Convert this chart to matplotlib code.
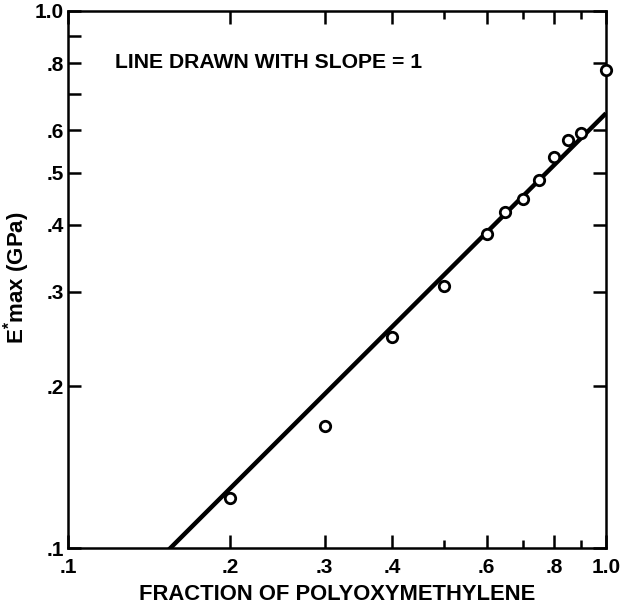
import matplotlib
matplotlib.use("Agg")
import matplotlib.pyplot as plt
import numpy as np
from matplotlib.ticker import FixedLocator, FixedFormatter, NullFormatter

plt.rcParams['font.family'] = ['Liberation Sans', 'DejaVu Sans']
plt.rcParams['font.weight'] = 'bold'
plt.rcParams['mathtext.fontset'] = 'custom'
plt.rcParams['mathtext.rm'] = 'Liberation Sans:bold'
plt.rcParams['mathtext.default'] = 'rm'

# data
fraction_pom = [0.2, 0.3, 0.4, 0.5, 0.6, 0.65, 0.7, 0.75, 0.8, 0.85, 0.9, 1.0]
e_max_gpa = [0.124, 0.169, 0.247, 0.307, 0.384, 0.422, 0.447, 0.485, 0.535, 0.575, 0.592, 0.777]
line_coef = 0.645   # E = coef * fraction (slope = 1 on log-log)

x_major = [0.1, 0.2, 0.3, 0.4, 0.6, 0.8, 1.0]
x_major_labels = ['.1', '.2', '.3', '.4', '.6', '.8', '1.0']
x_minor = [0.5, 0.7, 0.9]
y_major = [0.1, 0.2, 0.3, 0.4, 0.5, 0.6, 0.8, 1.0]
y_major_labels = ['.1', '.2', '.3', '.4', '.5', '.6', '.8', '1.0']
y_minor = [0.7, 0.9]

fig = plt.figure(figsize=(6.22, 6.12), dpi=100)
ax = fig.add_axes([68/622, 1-548/612, (606-68)/622, (548-11)/612])
ax.set_xscale('log')
ax.set_yscale('log')
ax.set_xlim(0.1, 1.0)
ax.set_ylim(0.1, 1.0)

xl = np.array([0.1, 1.0])
ax.plot(xl, line_coef * xl, color='black', lw=3.2, solid_capstyle='butt', zorder=2)
ax.plot(fraction_pom, e_max_gpa, 'o', mfc='white', mec='black', mew=2.0, ms=7.5, zorder=3, clip_on=False)

ax.xaxis.set_major_locator(FixedLocator(x_major))
ax.xaxis.set_major_formatter(FixedFormatter(x_major_labels))
ax.xaxis.set_minor_locator(FixedLocator(x_minor))
ax.xaxis.set_minor_formatter(NullFormatter())
ax.yaxis.set_major_locator(FixedLocator(y_major))
ax.yaxis.set_major_formatter(FixedFormatter(y_major_labels))
ax.yaxis.set_minor_locator(FixedLocator(y_minor))
ax.yaxis.set_minor_formatter(NullFormatter())

ax.tick_params(which='major', direction='in', length=9.5, width=1.8, top=True, right=True,
               labelsize=15)
ax.tick_params(axis='x', which='major', pad=7)
ax.tick_params(axis='y', which='major', pad=3)
ax.tick_params(axis='x', which='minor', direction='in', length=6, width=1.8, top=True)
ax.tick_params(axis='y', which='minor', direction='in', length=9.5, width=1.8, right=False)
for lab in ax.get_xticklabels() + ax.get_yticklabels():
    lab.set_fontweight('bold')
for s in ax.spines.values():
    s.set_linewidth(1.8)

ax.set_xlabel('FRACTION OF POLYOXYMETHYLENE', fontsize=15.8, fontweight='bold')
ax.xaxis.set_label_coords(0.5, (548-595)/537, transform=ax.transAxes)
ax.xaxis.label.set_va('center')
ax.set_ylabel(r'E$^{*}$max (GPa)', fontsize=16, fontweight='bold')
ax.yaxis.set_label_coords((17-68)/538, (548-278)/537, transform=ax.transAxes)
ax.yaxis.label.set_va('center')

ax.text(0.088, 0.905, 'LINE DRAWN WITH SLOPE = 1', transform=ax.transAxes,
        fontsize=15.2, fontweight='bold', va='center', ha='left')

fig.savefig('out.png', dpi=100)
